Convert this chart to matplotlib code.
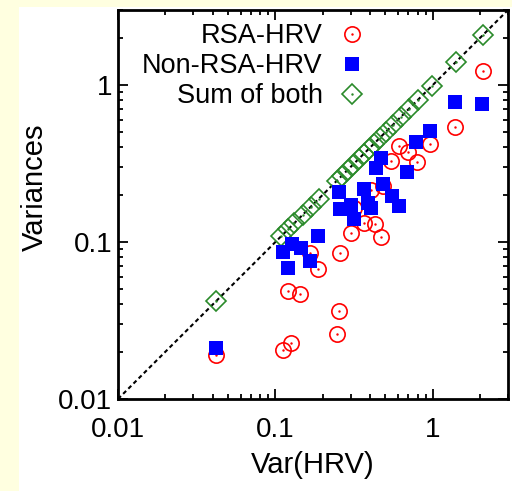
import matplotlib
matplotlib.use("Agg")
import matplotlib.pyplot as plt
from matplotlib.patches import Rectangle

plt.rcParams['font.family'] = ['Liberation Sans', 'DejaVu Sans']

# ---- data ----
rsa_x = [0.0421, 0.111, 0.126, 0.121, 0.144, 0.165, 0.185, 0.245, 0.252, 0.256,
         0.301, 0.314, 0.364, 0.427, 0.467, 0.403, 0.480, 0.540, 0.607, 0.693,
         0.791, 0.957, 1.38, 2.08]
rsa_y = [0.0191, 0.0205, 0.0227, 0.0488, 0.0467, 0.0851, 0.0673, 0.0259, 0.0364, 0.0851,
         0.114, 0.165, 0.132, 0.130, 0.108, 0.214, 0.227, 0.328, 0.409, 0.374,
         0.323, 0.421, 0.540, 1.23]

non_x = [0.0421, 0.111, 0.121, 0.128, 0.146, 0.165, 0.185, 0.252, 0.256, 0.301,
         0.314, 0.364, 0.385, 0.403, 0.434, 0.467, 0.480, 0.548, 0.607, 0.683,
         0.779, 0.957, 1.38, 2.05]
non_y = [0.0211, 0.0863, 0.0683, 0.0971, 0.0916, 0.0757, 0.109, 0.208, 0.162, 0.172,
         0.140, 0.218, 0.177, 0.165, 0.296, 0.343, 0.234, 0.196, 0.170, 0.279,
         0.434, 0.509, 0.779, 0.757]

sum_x = [0.0421, 0.109, 0.121, 0.132, 0.149, 0.167, 0.188, 0.245, 0.263, 0.288,
         0.309, 0.338, 0.364, 0.391, 0.421, 0.459, 0.502, 0.556, 0.625, 0.703,
         0.802, 0.985, 1.40, 2.08]
sum_y = [0.0421, 0.109, 0.121, 0.132, 0.149, 0.167, 0.188, 0.245, 0.263, 0.288,
         0.309, 0.338, 0.364, 0.391, 0.421, 0.459, 0.502, 0.556, 0.625, 0.703,
         0.802, 0.985, 1.40, 2.08]

diag = [0.01, 3.0]
ticks = [0.01, 0.1, 1]
tick_labels = ['0.01', '0.1', '1']

fig = plt.figure(figsize=(5.12, 4.91), dpi=100)
fig.patch.set_facecolor('white')
# light-yellow strips on top and left
fig.patches.append(Rectangle((0, 0), 19/512, 1, transform=fig.transFigure,
                             facecolor='#FFFFE0', edgecolor='none', zorder=-10))
fig.patches.append(Rectangle((0, 1 - 7/491), 1, 7/491, transform=fig.transFigure,
                             facecolor='#FFFFE0', edgecolor='none', zorder=-10))

ax = fig.add_axes([118/512, (491-399)/491, 390/512, 389/491])
ax.set_xscale('log')
ax.set_yscale('log')
ax.set_xlim(0.01, 3.0)
ax.set_ylim(0.01, 3.0)

ax.plot(diag, diag, color='black', linestyle=(0, (2.0, 1.5)), linewidth=1.5, zorder=1)

red = '#ff0000'
blue = '#0000ff'
green = '#2a8a2a'

h1, = ax.plot(rsa_x, rsa_y, linestyle='none', marker='o', markersize=11,
              markerfacecolor='none', markeredgecolor=red, markeredgewidth=1.2, zorder=3)
d1, = ax.plot(rsa_x, rsa_y, linestyle='none', marker='.', markersize=1.5,
              color=red, zorder=3)
h2, = ax.plot(non_x, non_y, linestyle='none', marker='s', markersize=9.5,
              color=blue, markeredgewidth=0, zorder=4)
h3, = ax.plot(sum_x, sum_y, linestyle='none', marker='D', markersize=10,
              markerfacecolor='none', markeredgecolor=green, markeredgewidth=1.2, zorder=2)
d3, = ax.plot(sum_x, sum_y, linestyle='none', marker='.', markersize=1.5,
              color=green, zorder=2)

ax.set_xticks(ticks)
ax.set_xticklabels(tick_labels)
ax.set_yticks(ticks)
ax.set_yticklabels(tick_labels)
ax.tick_params(which='both', direction='in', top=True, right=True, width=1.3)
ax.tick_params(which='major', length=7, labelsize=20)
ax.tick_params(which='minor', length=3.5)
ax.tick_params(axis='x', which='major', pad=13)
ax.tick_params(axis='y', which='major', pad=4)
for s in ax.spines.values():
    s.set_linewidth(2)

ax.set_xlabel('Var(HRV)', fontsize=21, labelpad=6)
ax.set_ylabel('Variances', fontsize=21)
ax.yaxis.set_label_coords(-0.177, 0.545)

leg = ax.legend([(h1, d1), h2, (h3, d3)], ['RSA-HRV', 'Non-RSA-HRV', 'Sum of both'],
                loc='upper right', bbox_to_anchor=(0.632, 0.966), frameon=False,
                markerfirst=False, fontsize=19.5, handlelength=0.95, handletextpad=0.6,
                labelspacing=0.15, borderpad=0, borderaxespad=0)
for t in leg.get_texts():
    t.set_ha('right')

fig.savefig('out.png', dpi=100)
